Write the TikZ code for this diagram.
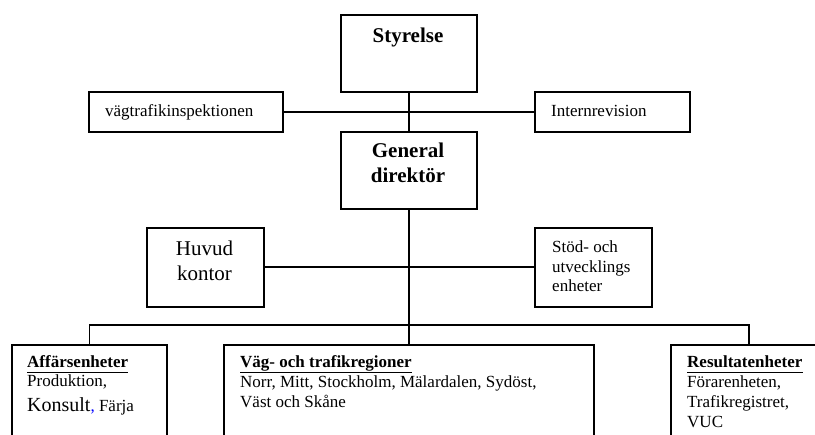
\documentclass[tikz,border=0pt]{standalone}
\usepackage{fontspec}
\setmainfont{Liberation Serif}
\begin{document}
\begin{tikzpicture}[x=1pt,y=-1pt,
  box/.style={draw,line width=1.8pt,rectangle,inner sep=0pt,anchor=north west},
  link/.style={line width=1.8pt},
  body/.style={inner sep=0pt,font=\fontsize{17}{20.5}\selectfont},
  head/.style={inner sep=0pt,font=\fontsize{17}{20.5}\selectfont\bfseries},
  big/.style={inner sep=0pt,font=\fontsize{21}{25}\selectfont\bfseries},
  ul/.style={line width=1.3pt}]
\useasboundingbox (0,0) rectangle (815,435);

% top level
\node[box,minimum width=136pt,minimum height=77pt] (sty) at (340,14) {};
\node[big,anchor=base] (styt) at (408,43) {Styrelse};
\node[box,minimum width=194pt,minimum height=40pt] (vti) at (88,91) {};
\node[body,anchor=base west] (vtit) at (105,117) {vägtrafikinspektionen};
\node[box,minimum width=155pt,minimum height=40pt] (intr) at (534,91) {};
\node[body,anchor=base west] (intrt) at (551,117) {Internrevision};
\node[box,minimum width=136pt,minimum height=77pt] (gd) at (340,131) {};
\node[big,anchor=base] (gd1) at (408,158) {General};
\node[big,anchor=base] (gd2) at (408,183) {direktör};

% staff units
\node[box,minimum width=117pt,minimum height=79pt] (huv) at (146,227) {};
\node[inner sep=0pt,font=\fontsize{21}{25}\selectfont,anchor=base] (huv1) at (204.5,256) {Huvud};
\node[inner sep=0pt,font=\fontsize{21}{25}\selectfont,anchor=base] (huv2) at (204.5,281) {kontor};
\node[box,minimum width=117pt,minimum height=79pt] (std) at (534,227) {};
\node[body,anchor=base west] (std1) at (552,253) {Stöd- och};
\node[body,anchor=base west] (std2) at (552,273) {utvecklings};
\node[body,anchor=base west] (std3) at (552,292) {enheter};

% operating units (continue below the page edge)
\node[box,minimum width=155pt,minimum height=120pt] (aff) at (11,344) {};
\node[head,anchor=base west] (affh) at (27,368) {Affärsenheter};
\node[body,anchor=base west] (aff1) at (27,387) {Produktion,};
\node[body,anchor=base west] (aff2) at (27,412) {{\fontsize{20}{24}\selectfont Konsult}\textcolor{blue}{,} Färja};
\node[box,minimum width=370pt,minimum height=120pt] (vag) at (223,344) {};
\node[head,anchor=base west] (vagh) at (240,368) {Väg- och trafikregioner};
\node[body,anchor=base west] (vag1) at (240,388) {Norr, Mitt, Stockholm, Mälardalen, Sydöst,};
\node[body,anchor=base west] (vag2) at (240,408) {Väst och Skåne};
\node[box,minimum width=156pt,minimum height=120pt] (res) at (670,344) {};
\node[head,anchor=base west] (resh) at (687,368) {Resultatenheter};
\node[body,anchor=base west] (res1) at (687,388) {Förarenheten,};
\node[body,anchor=base west] (res2) at (687,408) {Trafikregistret,};
\node[body,anchor=base west] (res3) at (687,428) {VUC};

% underlined headings
\foreach \h in {affh,vagh,resh}
  \draw[ul] ([yshift=-4.5pt]\h.base west) -- ([yshift=-4.5pt]\h.base east);

% connectors
\draw[link] (sty.south) -- (gd.north);
\draw[link] (vti.east) -- (intr.west);
\draw[link] (gd.south) -- (gd.south |- vag.north);
\draw[link] (huv.east) -- (huv.east -| std.west);
\coordinate (bj) at (408,325);
\draw[link] (aff.north) |- (bj) -| (res.north);
\end{tikzpicture}
\end{document}
